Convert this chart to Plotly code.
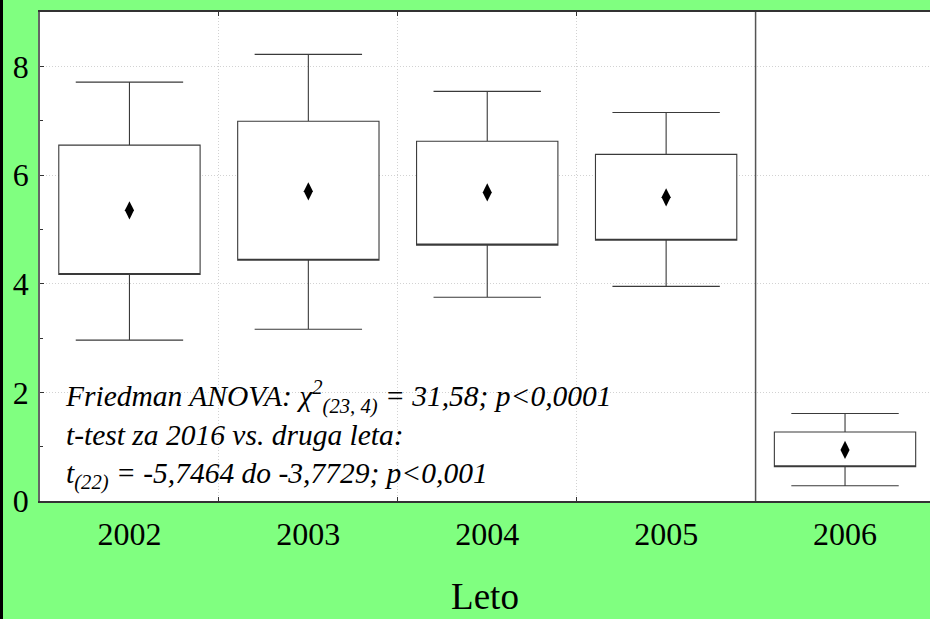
import plotly.graph_objects as go

years = ["2002", "2003", "2004", "2005", "2006"]
upper_whisker = [7.71, 8.22, 7.54, 7.15, 1.61]
box_top = [6.55, 6.99, 6.62, 6.38, 1.27]
mean_vals = [5.35, 5.70, 5.68, 5.59, 0.94]
box_bottom = [4.17, 4.43, 4.71, 4.80, 0.63]
lower_whisker = [2.96, 3.16, 3.75, 3.95, 0.28]
y_ticks = [0, 2, 4, 6, 8]

annot_text = ("<i>Friedman ANOVA: χ<sup>2</sup><sub>(23, 4)</sub> = 31,58; p&lt;0,0001<br>"
              "t-test za 2016 vs. druga leta:<br>"
              "t<sub>(22)</sub> = -5,7464 do -3,7729; p&lt;0,001</i>")

SERIF = "Liberation Serif, Times New Roman, serif"
GREEN = "#80FF80"

fig = go.Figure()
fig.add_trace(go.Box(
    x=years, q1=box_bottom, median=box_bottom, q3=box_top,
    lowerfence=lower_whisker, upperfence=upper_whisker,
    boxpoints=False, fillcolor="white",
    line=dict(color="#3a3a3a", width=1.1),
    width=0.79, whiskerwidth=0.76, showlegend=False, hoverinfo="skip",
))
fig.add_trace(go.Scatter(
    x=years, y=mean_vals, mode="markers",
    marker=dict(symbol="diamond-tall", size=13, color="black"),
    showlegend=False, hoverinfo="skip",
))

# separator line between 2005 and 2006
fig.add_shape(type="line", xref="x", yref="y", x0=3.5, x1=3.5, y0=0, y1=9,
              line=dict(color="#555555", width=1.5))
# black strip at left edge of the image
fig.add_shape(type="rect", xref="paper", yref="paper",
              x0=-40/890, x1=-37/890, y0=-118/489, y1=12/489 + 1,
              line=dict(width=0), fillcolor="black")

fig.add_annotation(text=annot_text, xref="x", yref="y", x=-0.37, y=1.22,
                   xanchor="left", yanchor="middle", align="left", showarrow=False,
                   font=dict(family=SERIF, size=29.5, color="black"))

fig.update_xaxes(
    type="category", categoryorder="array", categoryarray=years,
    range=[-0.5, 4.475], tickson="boundaries", automargin=False,
    ticks="inside", ticklen=4, tickcolor="#333",
    showline=True, linecolor="#333", linewidth=1.5, mirror="ticks",
    showgrid=True, gridcolor="#d2d2d2", griddash="1px,2px", gridwidth=1,
    tickfont=dict(family=SERIF, size=32, color="black"), ticklabelstandoff=4,
    title=dict(text="Leto", font=dict(family=SERIF, size=37, color="black"), standoff=32),
    zeroline=False,
)
fig.update_yaxes(
    range=[0, 9], tickvals=y_ticks, ticktext=[str(v) for v in y_ticks],
    ticks="inside", ticklen=4, tickcolor="#333", automargin=False,
    minor=dict(dtick=1, tick0=0, ticks="inside", ticklen=3, tickcolor="#333", showgrid=False),
    showline=True, linecolor="#666", linewidth=1.5, mirror=False,
    showgrid=True, gridcolor="#d2d2d2", griddash="1px,2px", gridwidth=1,
    tickfont=dict(family=SERIF, size=32, color="black"), ticklabelstandoff=3,
    zeroline=False,
)

fig.update_layout(
    width=930, height=619,
    margin=dict(l=40, r=0, t=12, b=118),
    paper_bgcolor=GREEN, plot_bgcolor="white",
    showlegend=False,
)

fig.write_html("out.html", config={"displayModeBar": False},
               post_script="document.body.style.margin='0';document.body.style.overflow='hidden';")
